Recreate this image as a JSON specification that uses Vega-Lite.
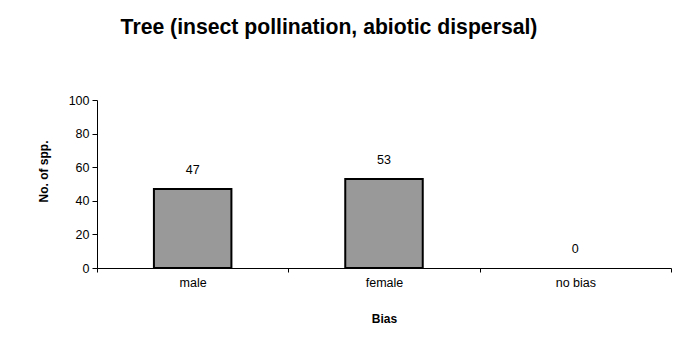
{
  "$schema": "https://vega.github.io/schema/vega-lite/v6.json",
  "width": 574,
  "height": 168,
  "autosize": {"type": "none"},
  "padding": {"left": 97, "top": 100, "right": 9, "bottom": 89},
  "background": "white",
  "title": {
    "text": "Tree (insect pollination, abiotic dispersal)",
    "font": "Liberation Sans",
    "fontSize": 21.2,
    "fontWeight": "bold",
    "color": "black",
    "anchor": "middle",
    "dx": -55,
    "offset": 56
  },
  "data": {
    "values": [
      {"Bias": "male", "count": 47},
      {"Bias": "female", "count": 53},
      {"Bias": "no bias", "count": 0}
    ]
  },
  "encoding": {
    "x": {
      "field": "Bias",
      "type": "nominal",
      "sort": null,
      "scale": {"paddingInner": 0, "paddingOuter": 0},
      "axis": {
        "title": "Bias",
        "labelAngle": 0,
        "tickBand": "extent",
        "tickSize": 4,
        "labelPadding": 4,
        "titlePadding": 25,
        "domainColor": "black",
        "tickColor": "black"
      }
    },
    "y": {
      "field": "count",
      "type": "quantitative",
      "scale": {"domain": [0, 100]},
      "axis": {
        "title": "No. of spp.",
        "values": [0, 20, 40, 60, 80, 100],
        "grid": false,
        "tickSize": 5,
        "labelPadding": 3,
        "titlePadding": 18,
        "titleY": 71,
        "domainColor": "black",
        "tickColor": "black"
      }
    }
  },
  "layer": [
    {
      "transform": [{"filter": "datum.count > 0"}],
      "mark": {"type": "bar", "width": {"band": 0.405}, "color": "#999999", "stroke": "black", "strokeWidth": 2}
    },
    {
      "mark": {"type": "text", "baseline": "middle", "dy": -19, "font": "Liberation Sans", "fontSize": 12.5, "color": "black"},
      "encoding": {"text": {"field": "count", "type": "quantitative"}}
    }
  ],
  "config": {
    "view": {"stroke": null},
    "axis": {
      "labelFont": "Liberation Sans",
      "labelFontSize": 12.5,
      "labelColor": "black",
      "titleFont": "Liberation Sans",
      "titleFontSize": 12,
      "titleFontWeight": "bold",
      "titleColor": "black"
    }
  }
}
